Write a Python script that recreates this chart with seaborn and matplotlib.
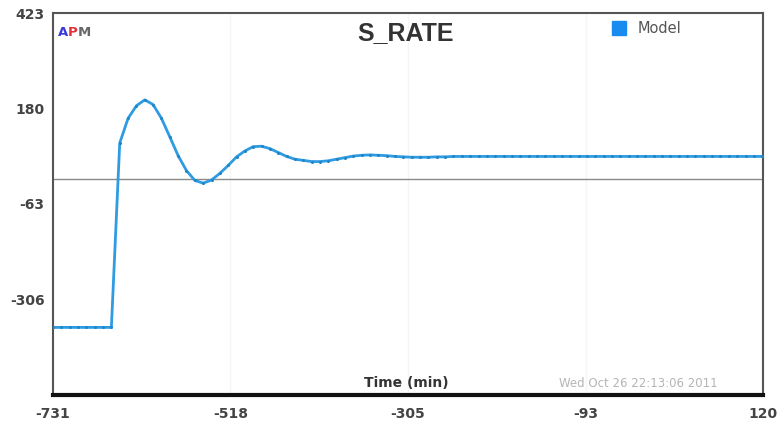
import numpy as np
import pandas as pd
import seaborn as sns
import matplotlib.pyplot as plt

sns.set_style("white")
plt.rcParams["font.family"] = ["DejaVu Sans"]

# model response (time in min)
time_min = [
    -731, -721, -711, -701, -691, -681, -671, -661,
    -651, -641, -631, -621, -611, -601, -591, -581, -571, -561,
    -551, -541, -531, -521, -511, -501, -491, -481, -471, -461,
    -451, -441, -431, -421, -411, -401, -391, -381, -371, -361,
    -351, -341, -331, -321, -311, -301, -291, -281, -271, -261,
    -251, -241, -231, -221, -211, -201, -191, -181, -171, -161,
    -151, -141, -131, -121, -111, -101, -91, -81, -71, -61,
    -51, -41, -31, -21, -11, -1, 9, 19, 29, 39,
    49, 59, 69, 79, 89, 99, 109, 119,
]
s_rate = [
    -377, -377, -377, -377, -377, -377, -377, -377,
    92, 155, 187, 202, 190, 155, 108, 60, 22, -3,
    -10, -2, 15, 35, 57, 72, 83, 84, 78, 68,
    58, 51, 48, 45, 45, 47, 51, 55, 59, 61,
    62, 61, 60, 58, 57, 56, 56, 56, 57, 57,
    58, 58, 58, 58, 58, 58, 58, 58, 58, 58,
    58, 58, 58, 58, 58, 58, 58, 58, 58, 58,
    58, 58, 58, 58, 58, 58, 58, 58, 58, 58,
    58, 58, 58, 58, 58, 58, 58, 58,
]

x_ticks = [-731, -518.25, -305.5, -92.75, 120]
x_labels = ["-731", "-518", "-305", "-93", "120"]
y_ticks = [423, 180, -63, -306]
y_labels = ["423", "180", "-63", "-306"]

df = pd.DataFrame({"Time": time_min, "S_RATE": s_rate, "Series": "Model"})

fig = plt.figure(figsize=(7.79, 4.25), dpi=100)
ax = fig.add_axes([0.068, 0.0706, 0.9115, 0.8988])

line_color = "#2e9be2"
ax.axhline(0, color="#8a8a8a", lw=1.0, zorder=1)
for xt in x_ticks[1:-1]:
    ax.axvline(xt, color="#f5f5f5", lw=1.0, zorder=0)

sns.lineplot(
    data=df, x="Time", y="S_RATE", ax=ax, color=line_color,
    lw=2.0, marker="o", markersize=2.2, markeredgewidth=0,
    markerfacecolor="#1f86c8", legend=False, zorder=3,
)

ax.set_xlim(-731, 120)
ax.set_ylim(-549, 423)
ax.set_xticks(x_ticks)
ax.set_xticklabels(x_labels)
ax.set_yticks(y_ticks)
ax.set_yticklabels(y_labels)
ax.set_xlabel("")
ax.set_ylabel("")

ax.tick_params(axis="x", direction="in", length=4, width=1.2, color="#222222",
               pad=9, labelsize=10, labelcolor="#444444")
ax.tick_params(axis="y", length=0, pad=6, labelsize=10, labelcolor="#444444")
for lbl in ax.get_xticklabels() + ax.get_yticklabels():
    lbl.set_fontweight("bold")

for side in ["left", "top", "right"]:
    ax.spines[side].set_color("#555555")
    ax.spines[side].set_linewidth(1.5)
ax.spines["bottom"].set_color("#111111")
ax.spines["bottom"].set_linewidth(3)

# title drawn inside the frame
ax.text(0.497, 0.948, "S_RATE", transform=ax.transAxes, fontsize=18,
        fontweight="bold", color="#333333", family="Liberation Sans",
        ha="center", va="center")

# APM logo
ax.text(0.007, 0.95, "A", transform=ax.transAxes, color="#3a3ad8",
        fontsize=9.5, fontweight="bold", va="center")
ax.text(0.0215, 0.95, "P", transform=ax.transAxes, color="#e0303a",
        fontsize=9.5, fontweight="bold", va="center")
ax.text(0.0355, 0.95, "M", transform=ax.transAxes, color="#666666",
        fontsize=9.5, fontweight="bold", va="center")

# legend
ax.plot([0.797], [0.96], marker="s", markersize=10, color="#1a8cf0",
        transform=ax.transAxes, clip_on=False, ls="none")
ax.text(0.824, 0.96, "Model", transform=ax.transAxes, color="#555555",
        fontsize=10.5, va="center")

ax.text(0.497, 0.032, "Time (min)", transform=ax.transAxes, color="#333333",
        fontsize=10, fontweight="bold", ha="center", va="center")
ax.text(0.825, 0.03, "Wed Oct 26 22:13:06 2011", transform=ax.transAxes,
        color="#b5b5b5", fontsize=8.5, ha="center", va="center")

fig.savefig("out.png", dpi=100)
